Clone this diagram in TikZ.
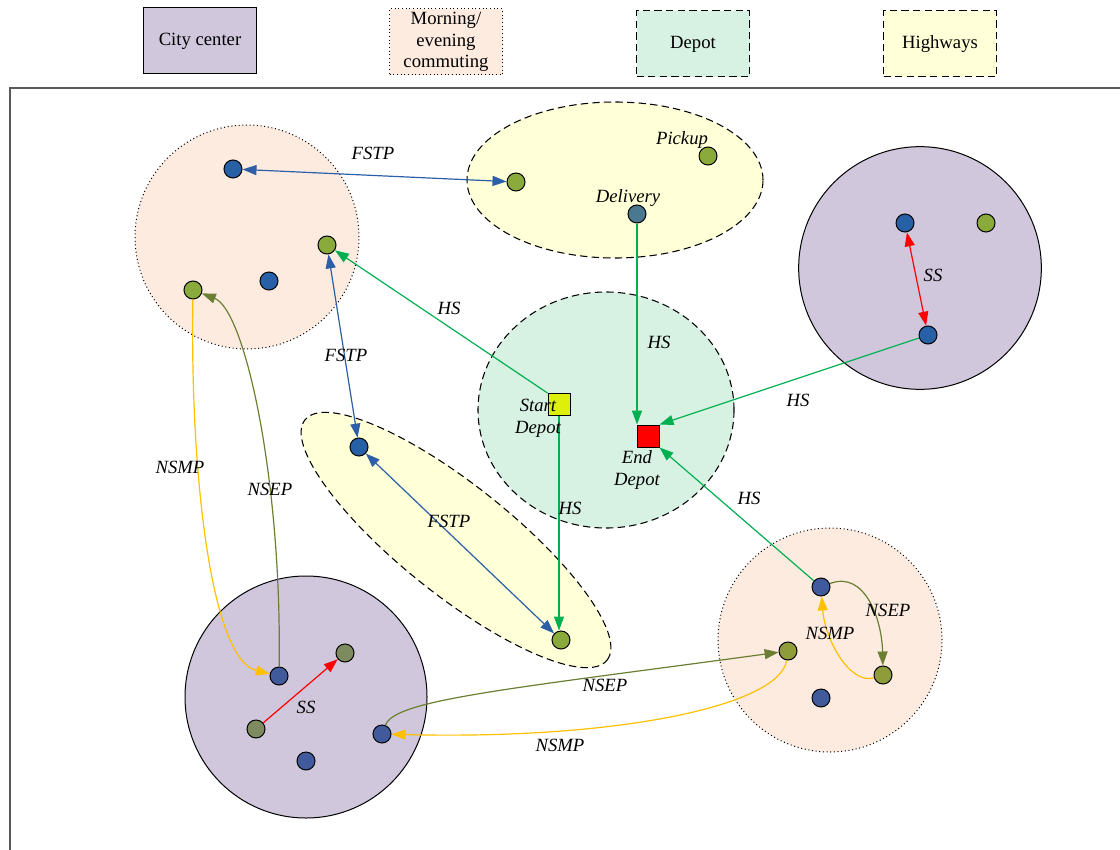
\documentclass[tikz,border=0pt]{standalone}
\usepackage{fontspec}
\setmainfont{Liberation Serif}
\usetikzlibrary{arrows.meta}
\definecolor{cityfill}{HTML}{D0C7DC}
\definecolor{commfill}{HTML}{FDEBE0}
\definecolor{depotfill}{HTML}{D7F1E3}
\definecolor{hwfill}{HTML}{FFFFD8}
\definecolor{dblue}{HTML}{2860A8}
\definecolor{dblueb}{HTML}{405A9C}
\definecolor{dgreen}{HTML}{8BAA3C}
\definecolor{dolive}{HTML}{7E8B5E}
\definecolor{dolivec}{HTML}{8F9C3A}
\definecolor{dteal}{HTML}{4A7890}
\definecolor{sdfill}{HTML}{DDF00A}
\definecolor{lblue}{HTML}{2C5FA8}
\definecolor{lgreen}{HTML}{00B050}
\definecolor{lred}{HTML}{FF0000}
\definecolor{lyellow}{HTML}{FFC000}
\definecolor{lolive}{HTML}{6B7F33}
\definecolor{framecol}{HTML}{595959}
\begin{document}
\begin{tikzpicture}[x=0.75pt,y=-0.75pt,
  legbox/.style={draw=black, line width=0.75pt, minimum width=84.75pt, minimum height=49.5pt, inner sep=0pt, align=center, font=\fontsize{14}{16.3}\selectfont},
  dashpat/.style={dash pattern=on 5.5pt off 3.2pt},
  city/.style={draw=black, line width=0.75pt, fill=cityfill},
  commute/.style={draw=black, line width=0.75pt, dotted, fill=commfill},
  depotreg/.style={draw=black, line width=0.8pt, dashpat, fill=depotfill},
  highway/.style={draw=black, line width=0.8pt, dashpat, fill=hwfill},
  dot/.style={circle, draw=black, line width=0.75pt, minimum size=13.5pt, inner sep=0pt},
  sq/.style={rectangle, draw=black, line width=0.75pt, minimum size=16.5pt, inner sep=0pt},
  lab/.style={font=\fontsize{14}{16.3}\selectfont\itshape, align=center, inner sep=0pt},
  arr/.style={line width=0.9pt, -{Triangle[length=10.5pt,width=7.5pt]}},
  darr/.style={line width=0.9pt, {Triangle[length=10.5pt,width=7.5pt]}-{Triangle[length=10.5pt,width=7.5pt]}}
]
\useasboundingbox (0,0) rectangle (1120,849);
% frame
\draw[framecol, line width=1pt] (10,870) -- (10,88) -- (1140,88);
% legend
\node[legbox, fill=cityfill] (lg1) at (200,41) {City center};
\node[legbox, fill=commfill, dotted] (lg2) at (446,42) {Morning/\\evening\\commuting};
\node[legbox, fill=depotfill, dashpat] (lg3) at (693,44) {Depot};
\node[legbox, fill=hwfill, dashpat] (lg4) at (940,44) {Highways};
% regions
\path[commute] (247,237) circle[radius=84pt];
\path[commute] (830,640) circle[radius=84pt];
\path[highway] (615,180) ellipse[x radius=111pt, y radius=58.5pt];
\path[city] (920,268) circle[radius=91pt];
\path[depotreg] (606,410) ellipse[x radius=96pt, y radius=88.5pt];
\path[highway, shift={(456,540)}, rotate=-38.5] (0,0) ellipse[x radius=144.75pt, y radius=41.25pt];
\path[city] (306,697) circle[radius=90.75pt];
% dots
\node[dot, fill=dblue] (A1) at (233,169) {};
\node[dot, fill=dgreen] (A2) at (327,245) {};
\node[dot, fill=dblue] (A3) at (269,281) {};
\node[dot, fill=dgreen] (A4) at (193,290) {};
\node[dot, fill=dgreen] (B1) at (516,182) {};
\node[dot, fill=dgreen] (B2) at (708,156) {};
\node[dot, fill=dteal] (B3) at (637,214) {};
\node[dot, fill=dblue] (C1) at (905,223) {};
\node[dot, fill=dgreen] (C2) at (986,223) {};
\node[dot, fill=dblue] (C3) at (928,335) {};
\node[dot, fill=dblue] (D1) at (359,447) {};
\node[dot, fill=dgreen] (D2) at (561,640) {};
\node[dot, fill=dblueb] (E1) at (279,676) {};
\node[dot, fill=dolive] (E2) at (345,653) {};
\node[dot, fill=dolive] (E3) at (256,729) {};
\node[dot, fill=dblueb] (E4) at (382,734) {};
\node[dot, fill=dblueb] (E5) at (306,761) {};
\node[dot, fill=dblueb] (F1) at (821,587) {};
\node[dot, fill=dolivec] (F2) at (788,651) {};
\node[dot, fill=dolivec] (F3) at (883,675) {};
\node[dot, fill=dblueb] (F4) at (821,698) {};
\node[sq, fill=sdfill] (SD) at (559,404.5) {};
\node[sq, fill=red] (ED) at (648,436) {};
% connectors
\draw[darr, lblue] (A1) -- (B1);
\draw[darr, lblue] (A2) -- (D1);
\draw[darr, lblue] (D1) -- (D2);
\draw[arr, lgreen] (SD.north west) -- (A2);
\draw[arr, lgreen] (B3) -- (B3 |- ED.north);
\draw[arr, lgreen] (C3) -- (ED.north east);
\draw[arr, lgreen] (F1) -- (ED.south east);
\draw[arr, lgreen] (SD.south) -- (SD.south |- D2.north);
\draw[darr, lred] (C1) -- (C3);
\draw[arr, lred] (E3) -- (E2);
\draw[arr, lyellow] (A4) .. controls (190,480) and (212,660) .. (E1);
\draw[arr, lolive] (E1) .. controls (282,480) and (245,310) .. (A4);
\draw[arr, lolive] (E4) .. controls (395,700) and (500,690) .. (F2);
\draw[arr, lyellow] (F2) .. controls (780,705) and (620,740) .. (E4);
\draw[arr, lolive] (F1) .. controls (865,570) and (882,620) .. (F3);
\draw[arr, lyellow] (F3) .. controls (850,685) and (825,640) .. (F1);
% redraw square on top of lines
\node[sq, fill=sdfill] at (SD) {};
% labels
\node[lab] (t1) at (373,153) {FSTP};
\node[lab] (t2) at (346,355) {FSTP};
\node[lab] (t3) at (449,521) {FSTP};
\node[lab] (t4) at (449,308) {HS};
\node[lab] (t5) at (659,342) {HS};
\node[lab] (t6) at (798,400) {HS};
\node[lab] (t7) at (749,498) {HS};
\node[lab] (t8) at (570,508) {HS};
\node[lab] (t9) at (933,275) {SS};
\node[lab] (t10) at (306,707) {SS};
\node[lab] (t11) at (180,467) {NSMP};
\node[lab] (t12) at (270,489) {NSEP};
\node[lab] (t13) at (605,685) {NSEP};
\node[lab] (t14) at (560,745) {NSMP};
\node[lab] (t15) at (888,610) {NSEP};
\node[lab] (t16) at (830,633) {NSMP};
\node[lab] (t17) at (682,140) {Pickup};
\node[lab] (t18) at (628,198) {Delivery};
\node[lab] (t19) at (538,418) {Start\\Depot};
\node[lab] (t20) at (637,470) {End\\Depot};
\end{tikzpicture}
\end{document}
